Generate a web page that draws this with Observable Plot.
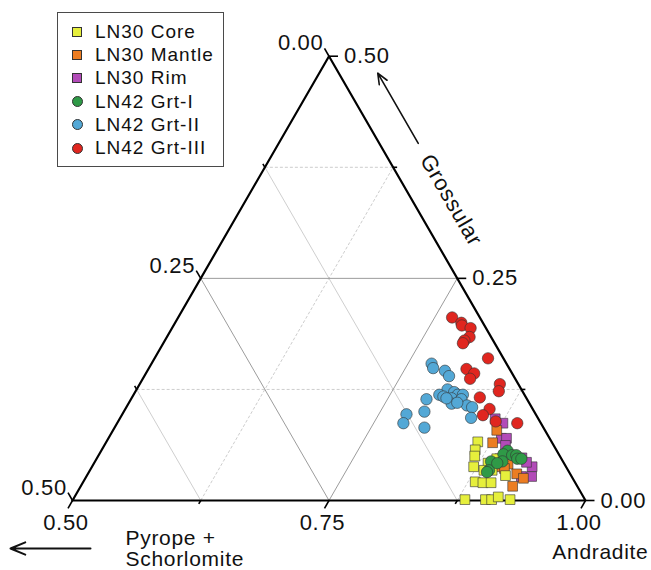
<!DOCTYPE html>
<html>
<head>
<meta charset="utf-8">
<script src="https://cdn.jsdelivr.net/npm/d3@7"></script>
<script src="https://cdn.jsdelivr.net/npm/@observablehq/plot@0.6"></script>
<style>
  html,body{margin:0;padding:0;background:#fff;}
  #wrap{position:relative;width:651px;height:570px;overflow:hidden;font-family:"Liberation Sans",Arial,Helvetica,sans-serif;}
  #chart svg text{letter-spacing:0.7px;}
  #legend{position:absolute;left:57px;top:12px;width:167px;height:155px;box-sizing:border-box;border:1.2px solid #4a4a4a;background:#fff;}
  .row{position:absolute;left:37px;height:22px;line-height:22px;font-size:19px;letter-spacing:1px;color:#111;white-space:nowrap;}
  .mk{position:absolute;box-sizing:border-box;border:1px solid #333;}
</style>
</head>
<body>
<div id="wrap"><div id="chart"></div><div id="legend"></div></div>
<script>
// ---------------- data (Andradite, Grossular mole fractions; Pyrope+Schorlomite = 1 - And - Gro)
const seriesNames = ["LN30 Core", "LN30 Mantle", "LN30 Rim", "LN42 Grt-I", "LN42 Grt-II", "LN42 Grt-III"];
const seriesColors = ["#e6ef3c", "#ec7d22", "#b24bb8", "#2f9a47", "#53a8d6", "#e0261f"];
const seriesSymbols = ["square", "square", "square", "circle", "circle", "circle"];

const coreAnd = [0.862, 0.864, 0.867, 0.872, 0.882, 0.890, 0.898, 0.892, 0.890, 0.908, 0.882, 0.902, 0.908, 0.913, 0.926, 0.884, 0.884];
const coreGro = [0.066, 0.057, 0.050, 0.038, 0.021, 0.020, 0.020, 0.034, 0.047, 0.028, 0.001, 0.001, 0.001, 0.004, 0.001, 0.042, 0.034];

const mantleAnd = [0.874, 0.877, 0.893, 0.897, 0.904, 0.918, 0.927, 0.921, 0.903];
const mantleGro = [0.079, 0.065, 0.047, 0.038, 0.041, 0.030, 0.025, 0.016, 0.036];

const rimAnd = [0.866, 0.876, 0.883, 0.888, 0.891, 0.914, 0.929, 0.934, 0.924, 0.921];
const rimGro = [0.092, 0.087, 0.070, 0.070, 0.062, 0.048, 0.038, 0.027, 0.027, 0.043];

const grt1And = [0.896, 0.894, 0.903, 0.907, 0.910, 0.914, 0.897, 0.886, 0.889, 0.888, 0.893];
const grt1Gro = [0.056, 0.052, 0.051, 0.051, 0.047, 0.047, 0.044, 0.044, 0.034, 0.032, 0.042];

const grt2And = [0.773, 0.777, 0.790, 0.797, 0.803, 0.798, 0.803, 0.811, 0.816, 0.821, 0.812, 0.815, 0.822, 0.831, 0.837, 0.842, 0.788, 0.793, 0.777, 0.779, 0.802, 0.807, 0.820];
const grt2Gro = [0.154, 0.149, 0.146, 0.140, 0.125, 0.119, 0.117, 0.122, 0.119, 0.119, 0.115, 0.109, 0.114, 0.107, 0.105, 0.093, 0.114, 0.100, 0.097, 0.087, 0.082, 0.115, 0.110];

const grt3And = [0.767, 0.779, 0.781, 0.791, 0.795, 0.792, 0.792, 0.825, 0.810, 0.820, 0.819, 0.851, 0.854, 0.839, 0.855, 0.852, 0.868, 0.890];
const grt3Gro = [0.206, 0.200, 0.197, 0.194, 0.184, 0.180, 0.177, 0.160, 0.148, 0.143, 0.137, 0.131, 0.123, 0.116, 0.103, 0.096, 0.089, 0.087];

// axis tick values and labels
const andTicks = [0.5, 0.625, 0.75, 0.875, 1.0];
const groTicks = [0, 0.125, 0.25, 0.375, 0.5];
const pyrTicks = [0, 0.125, 0.25, 0.375, 0.5];
const majorTicks = [0, 0.25, 0.5, 0.75, 1.0];
const gridLevels = [0.125, 0.25, 0.375];
const axisTitles = ["Grossular", "Pyrope +\nSchorlomite", "Andradite"];

// ---------------- geometry helpers
const SQ = Math.sqrt(3) / 2;
const proj = (and, gro) => [and + gro / 2, gro * SQ];   // ternary -> plane
const PX = 1 / 1026;                                     // one pixel in plane units
const fmt = d3.format(".2f");
const isMajor = v => majorTicks.some(m => Math.abs(m - v) < 1e-9);

const seriesData = [
  [coreAnd, coreGro], [mantleAnd, mantleGro], [rimAnd, rimGro],
  [grt1And, grt1Gro], [grt2And, grt2Gro], [grt3And, grt3Gro]
].map(([A, G], i) => A.map((a, j) => {
  const [x, y] = proj(a, G[j]);
  return {series: seriesNames[i], x, y};
}));

// grid lines
const grid = [];
for (const g of gridLevels) grid.push({fam: "gro", major: isMajor(g), a: proj(0.5, g), b: proj(1 - g, g)});
for (const p of gridLevels) grid.push({fam: "pyr", major: isMajor(p), a: proj(0.5, 0.5 - p), b: proj(1 - p, 0)});
for (const g of gridLevels) { const a = 0.5 + g; grid.push({fam: "and", major: isMajor(a), a: proj(a, 0), b: proj(a, 1 - a)}); }

// ticks
const ticks = [];
const dirs = {and: [-0.5, -SQ], gro: [1, 0], pyr: [-0.5, SQ]};
function addTick(axis, v, base) {
  const len = (isMajor(v) ? 9 : 4) * PX;
  const d = dirs[axis];
  ticks.push({axis, v, major: isMajor(v), x1: base[0], y1: base[1], x2: base[0] + d[0] * len, y2: base[1] + d[1] * len});
}
andTicks.forEach(a => addTick("and", a, proj(a, 0)));
groTicks.forEach(g => addTick("gro", g, proj(1 - g, g)));
pyrTicks.forEach(p => addTick("pyr", p, proj(0.5, 0.5 - p)));
const majorT = ticks.filter(t => t.major);

const BL = proj(0.5, 0), BR = proj(1, 0), TOP = proj(0.5, 0.5);
const triangle = [BL, BR, TOP, BL];

// axis-title anchors
const groTitleAt = proj(1 - 0.338, 0.338);
const groArrow = {a: proj(1 - 0.402, 0.402), b: proj(1 - 0.481, 0.481)};

const tickLabel = {fontSize: 22, fill: "#111"};

const marks = [
  Plot.link(grid.filter(d => !d.major && d.fam === "pyr"), {x1: d => d.a[0], y1: d => d.a[1], x2: d => d.b[0], y2: d => d.b[1], stroke: "#cfcfcf", strokeWidth: 1}),
  Plot.link(grid.filter(d => !d.major && d.fam !== "pyr"), {x1: d => d.a[0], y1: d => d.a[1], x2: d => d.b[0], y2: d => d.b[1], stroke: "#cdcdcd", strokeWidth: 1, strokeDasharray: "3,2"}),
  Plot.link(grid.filter(d => d.major), {x1: d => d.a[0], y1: d => d.a[1], x2: d => d.b[0], y2: d => d.b[1], stroke: "#9c9c9c", strokeWidth: 1}),
  Plot.line(triangle, {x: d => d[0], y: d => d[1], stroke: "#000", strokeWidth: 2.2, strokeLinejoin: "miter"}),
  Plot.link(ticks, {x1: "x1", y1: "y1", x2: "x2", y2: "y2", stroke: "#000", strokeWidth: 1.6}),
  // tick labels
  Plot.text(majorT.filter(t => t.axis === "and"), {x: "x2", y: "y2", text: d => fmt(d.v), textAnchor: "middle", dx: -2, dy: 15, ...tickLabel}),
  Plot.text(majorT.filter(t => t.axis === "gro"), {x: "x2", y: "y2", text: d => fmt(d.v), textAnchor: "start", dx: 6, dy: 0, ...tickLabel}),
  Plot.text(majorT.filter(t => t.axis === "pyr"), {x: "x2", y: "y2", text: d => fmt(d.v), textAnchor: "end", dx: -1, dy: -5, ...tickLabel}),
  // axis titles
  Plot.text([groTitleAt], {x: d => d[0], y: d => d[1], text: [axisTitles[0]], rotate: 60, dx: 39, fontSize: 22, fill: "#111", textAnchor: "middle"}),
  Plot.arrow([groArrow], {x1: d => d.a[0], y1: d => d.a[1], x2: d => d.b[0], y2: d => d.b[1], dx: 39, stroke: "#111", strokeWidth: 1.6, headLength: 11, headAngle: 45}),
  Plot.text([BL], {x: d => d[0], y: d => d[1], text: [axisTitles[1]], textAnchor: "start", lineAnchor: "middle", lineHeight: 1.0, dx: 53, dy: 48, fontSize: 21, fill: "#111"}),
  Plot.arrow([{a: [BL[0] + 18 * PX, BL[1]], b: [BL[0] - 62 * PX, BL[1]]}], {x1: d => d.a[0], y1: d => d.a[1], x2: d => d.b[0], y2: d => d.b[1], dy: 48, stroke: "#111", strokeWidth: 2, headLength: 12, headAngle: 45}),
  Plot.text([BR], {x: d => d[0], y: d => d[1], text: [axisTitles[2]], textAnchor: "end", dx: 63, dy: 52, fontSize: 21, fill: "#111"})
];

// points: draw order chosen to match overlaps
const order = [2, 1, 0, 4, 5, 3];
for (const i of order) {
  marks.push(Plot.dot(seriesData[i], {
    x: "x", y: "y", symbol: seriesSymbols[i], fill: seriesColors[i],
    r: seriesSymbols[i] === "square" ? 5.5 : 5.7, stroke: "#333", strokeWidth: 0.6
  }));
}

const chart = Plot.plot({
  width: 651, height: 570, margin: 0,
  x: {domain: [0.429825, 1.064327], axis: null},
  y: {domain: [-0.068226, 0.487329], axis: null},
  style: {fontFamily: "Liberation Sans, Arial, sans-serif", background: "#fff", overflow: "visible"},
  marks
});
document.getElementById("chart").appendChild(chart);

// legend
const lg = d3.select("#legend");
seriesNames.forEach((name, i) => {
  const cy = 19 + i * 23.2;
  const sq = seriesSymbols[i] === "square";
  const s = sq ? 10 : 11;
  lg.append("div").attr("class", "mk")
    .style("left", (19 - s / 2) + "px").style("top", (cy - s / 2) + "px")
    .style("width", s + "px").style("height", s + "px")
    .style("background", seriesColors[i])
    .style("border-radius", sq ? "0" : "50%");
  lg.append("div").attr("class", "row").style("top", (cy - 11) + "px").text(name);
});
</script>
</body>
</html>
